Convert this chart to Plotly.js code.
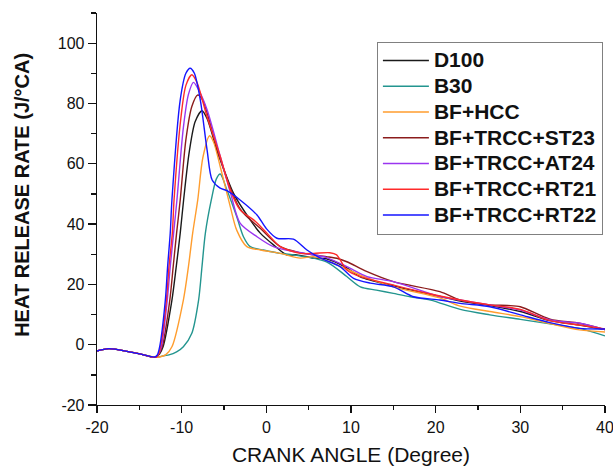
<!DOCTYPE html>
<html>
<head>
<meta charset="utf-8">
<script src="https://cdn.plot.ly/plotly-3.0.1.min.js"></script>
<style>html,body{margin:0;padding:0;background:#fff;}#chart{width:613px;height:466px;}</style>
</head>
<body>
<div id="chart"></div>
<script>
// Series names and colours
var seriesNames = ['D100', 'B30', 'BF+HCC', 'BF+TRCC+ST23', 'BF+TRCC+AT24', 'BF+TRCC+RT21', 'BF+TRCC+RT22'];
var seriesColors = ['#1a1a1a', '#23958f', '#ff9d2e', '#8b1c1c', '#9a35f0', '#ff2a2a', '#1515ff'];

// Crank angle (deg) and heat release rate (J/°CA)
var d100X = [-20, -18.6, -16.3, -14.7, -13.1, -12.6, -12.2, -11.15, -10.64, -10.17, -9.77, -9.1, -8.4, -7.6, -7, -5.83, -3.87, -1.9, -0.72, 0.85, 2.4, 3.6, 5.6, 7.1, 9.5, 11.1, 15, 20.5, 22.9, 26.4, 30, 33.5, 37, 40];
var d100Y = [-2.1, -1.3, -2.3, -3.2, -4.2, -3.0, -0.7, 14.8, 25.9, 37, 48, 64, 74, 77.6, 75, 64.6, 50.2, 41.4, 37, 33.1, 29.8, 29.8, 28.7, 28.5, 25.5, 22.5, 19.5, 16, 14.5, 13, 11, 8, 6.5, 5];

var b30X = [-20, -18.6, -16.3, -14.7, -13.1, -12, -11.5, -10.6, -9.8, -8.8, -8, -7.6, -7.2, -6.5, -5.9, -5.44, -4.65, -3.5, -2.7, -1.9, -0.33, 1.6, 3.2, 7.1, 9.5, 11.1, 13, 15, 17, 19.4, 22.9, 26.4, 30, 33.5, 37, 40];
var b30Y = [-2.1, -1.3, -2.3, -3.2, -4.2, -3.6, -3.4, -2.4, -0.7, 3.8, 14.8, 25.9, 37, 48, 55, 56.6, 51.3, 42.5, 35.8, 32.5, 31.4, 30.3, 29.8, 27.5, 22.6, 19.2, 18.1, 17, 15.9, 14.8, 11.7, 9.9, 8.4, 6.9, 5.4, 2.9];

var hccX = [-20, -18.6, -16.3, -14.7, -13.1, -12.5, -11.9, -11.15, -9.8, -9.2, -8.7, -8.1, -7.5, -6.7, -6.2, -5.44, -4.26, -3.5, -2.3, -0.7, 1.65, 4, 5.6, 7.9, 11.1, 15, 20.5, 22.9, 26.4, 30, 33.5, 37, 40];
var hccY = [-2.1, -1.3, -2.3, -3.2, -4.2, -4.0, -3.4, -0.7, 14.8, 25.9, 37, 48, 62, 69.3, 67, 59, 45.8, 38, 32.5, 31.4, 30.3, 28.7, 29.2, 27, 23.1, 19.2, 15.5, 12.8, 11, 9.3, 7, 4.9, 4.2];

var st23X = [-20, -18.6, -16.3, -14.7, -13.1, -12.7, -12.3, -11.4, -11, -10.6, -10.17, -9.5, -8.8, -8.1, -7.5, -5.44, -3.1, -0.72, 1.65, 4, 7.1, 8.5, 9.5, 11.9, 15, 20.5, 22.9, 26.4, 28.5, 30, 33.5, 37, 40];
var st23Y = [-2.1, -1.3, -2.3, -3.2, -4.2, -3.2, -0.7, 14.8, 25.9, 37, 48, 68, 79, 82.8, 81, 61.3, 45, 38.6, 32.5, 30.5, 29.2, 28.5, 27.5, 24.2, 20.9, 17.6, 14.8, 13.2, 13, 12.6, 8.5, 7.1, 5];

var at24X = [-20, -18.6, -16.3, -14.7, -13.1, -12.8, -12.4, -11.7, -11.35, -10.95, -10.56, -9.8, -9.2, -8.6, -8, -7, -5.44, -4.2, -3.1, -1.1, 0.85, 3.2, 5.6, 7.1, 9.5, 11.9, 15, 20.5, 22.9, 26.4, 30, 33.5, 37, 40];
var at24Y = [-2.1, -1.3, -2.3, -3.2, -4.2, -3.4, -0.7, 14.8, 25.9, 37, 48, 72, 83, 87, 84.5, 77.9, 62.4, 50, 40.3, 35.8, 32.5, 30.9, 29.8, 28.9, 25.9, 22.6, 20.9, 16, 14.8, 13.2, 11.5, 8.2, 7.1, 5];

var rt21X = [-20, -18.6, -16.3, -14.7, -13.1, -12.8, -12.5, -11.8, -11.5, -11.1, -10.9, -10.1, -9.5, -8.8, -8.2, -7, -5.44, -4.26, -3.1, -1.5, 0.07, 1.65, 4, 5.6, 7.5, 8.3, 9.5, 11.1, 15, 19.4, 22.9, 26.4, 30, 33.5, 37, 40];
var rt21Y = [-2.1, -1.3, -2.3, -3.2, -4.2, -3.5, -0.7, 14.8, 25.9, 37, 48, 75, 86, 89.5, 87, 75.6, 62.4, 51.3, 44.7, 41.4, 37, 32.5, 30.3, 30.3, 30.5, 29.8, 24.8, 22.6, 19.8, 16.8, 14.8, 13.2, 11.7, 8, 6.5, 5.2];

var rt22X = [-20, -18.6, -16.3, -14.7, -13.2, -12.9, -12.6, -11.93, -11.66, -11.35, -11.15, -10.17, -9.5, -9, -8.5, -7.8, -7, -6.4, -5.5, -4.6, -3.1, -1.1, 0, 1.25, 3.2, 4.8, 6.4, 8.7, 10.3, 12.3, 15, 17.4, 20.5, 22.9, 26.4, 30, 33.5, 37, 40];
var rt22Y = [-2.1, -1.3, -2.3, -3.2, -4.1, -3.5, -0.7, 14.8, 25.9, 37, 48, 81.2, 90, 91.7, 90, 81.2, 64.6, 54.6, 52, 51, 48, 43, 38.5, 35.3, 35, 31.4, 28.7, 25.9, 22, 20.4, 19.2, 15.9, 14.8, 13.7, 12.6, 9.9, 7.3, 5.4, 5.2];

// Axis ticks
var xTicks = [-20, -10, 0, 10, 20, 30, 40];
var yTicks = [-20, 0, 20, 40, 60, 80, 100];

var xs = [d100X, b30X, hccX, st23X, at24X, rt21X, rt22X];
var ys = [d100Y, b30Y, hccY, st23Y, at24Y, rt21Y, rt22Y];

var traces = seriesNames.map(function (n, i) {
  return {
    type: 'scatter', mode: 'lines',
    x: xs[i], y: ys[i],
    name: '<span style="font-size:21px">' + n + '</span>',
    line: {color: seriesColors[i], width: 1.4, shape: 'spline', smoothing: 0.8},
    hoverinfo: 'x+y'
  };
});

var font = 'Liberation Sans, Arial, sans-serif';
var layout = {
  width: 613, height: 466,
  margin: {l: 97, r: 8, t: 13, b: 61, pad: 0},
  paper_bgcolor: '#fff', plot_bgcolor: '#fff',
  font: {family: font, color: '#111', size: 16},
  showlegend: true,
  legend: {
    x: 0.551, y: 0.927, xanchor: 'left', yanchor: 'top',
    bgcolor: '#fff', bordercolor: '#808080', borderwidth: 1,
    font: {family: font, size: 17.5, color: '#111', weight: 'bold'},
    itemwidth: 46, tracegroupgap: 0
  },
  xaxis: {
    range: [-20, 40], tickvals: xTicks, ticktext: xTicks.map(String),
    ticks: 'outside', ticklen: 7, tickwidth: 1.3, tickcolor: '#111',
    ticklabeloverflow: 'allow',
    showline: true, linecolor: '#111', linewidth: 1.3,
    showgrid: false, zeroline: false,
    tickfont: {family: font, size: 16, color: '#111'},
    minor: {dtick: 5, tick0: 0, ticks: 'outside', ticklen: 4, tickwidth: 1.3, tickcolor: '#111', showgrid: false},
    title: {text: 'CRANK ANGLE (Degree)', font: {family: font, size: 21, color: '#111'}, standoff: 14}
  },
  yaxis: {
    range: [-20, 110], tickvals: yTicks, ticktext: yTicks.map(String),
    ticks: 'outside', ticklen: 8, tickwidth: 1.3, tickcolor: '#111',
    showline: true, linecolor: '#111', linewidth: 1.3,
    showgrid: false, zeroline: false,
    tickfont: {family: font, size: 16, color: '#111'},
    minor: {dtick: 10, tick0: 0, ticks: 'outside', ticklen: 5, tickwidth: 1.3, tickcolor: '#111', showgrid: false}
  },
  annotations: [{
    text: 'HEAT RELEASE RATE (J/°CA)', textangle: -90,
    xref: 'paper', yref: 'paper', x: -0.148, y: 0.5357,
    xanchor: 'center', yanchor: 'middle', showarrow: false,
    font: {family: font, size: 20, color: '#111', weight: 'bold'}
  }]
};

Plotly.newPlot('chart', traces, layout, {displayModeBar: false, staticPlot: true});
</script>
</body>
</html>
